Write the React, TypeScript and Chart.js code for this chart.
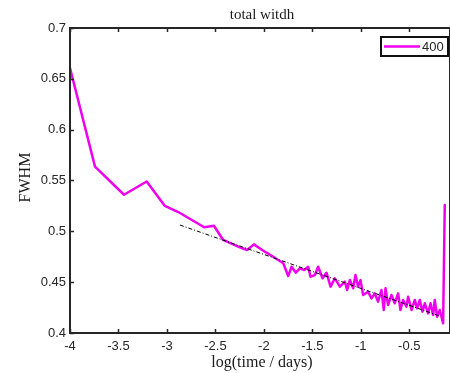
import React, { useEffect, useRef } from "react";
import { Chart, registerables } from "chart.js";
Chart.register(...registerables);

const logTime = [
  -4, -3.742, -3.443, -3.209, -3.021, -2.883, -2.615, -2.515, -2.42, -2.247,
  -2.172, -2.103, -1.99, -1.904, -1.8, -1.749, -1.714, -1.67, -1.629, -1.584,
  -1.543, -1.519, -1.474, -1.44, -1.395, -1.354, -1.312, -1.268, -1.216, -1.165,
  -1.141, -1.113, -1.079, -1.055, -1.028, -1.003, -0.976, -0.925, -0.89, -0.856,
  -0.822, -0.787, -0.763, -0.745, -0.719, -0.684, -0.65, -0.615, -0.591, -0.564,
  -0.529, -0.512, -0.477, -0.443, -0.419, -0.392, -0.364, -0.34, -0.306, -0.281,
  -0.254, -0.237, -0.213, -0.186, -0.168, -0.151, -0.134,
];
const fwhm = [
  0.6607, 0.5637, 0.536, 0.549, 0.525, 0.519, 0.504, 0.5055, 0.4915, 0.4843,
  0.4816, 0.4872, 0.48, 0.475, 0.4686, 0.456, 0.4652, 0.4593, 0.4636, 0.462,
  0.4652, 0.4554, 0.457, 0.4652, 0.4538, 0.4593, 0.4456, 0.4538, 0.4456, 0.4505,
  0.4423, 0.4521, 0.444, 0.457, 0.4456, 0.452, 0.4374, 0.4406, 0.434, 0.439,
  0.4308, 0.4423, 0.4226, 0.444, 0.4275, 0.4374, 0.4292, 0.439, 0.4226, 0.4325,
  0.4259, 0.4357, 0.4226, 0.4325, 0.4243, 0.4325, 0.421, 0.4292, 0.4193, 0.4292,
  0.4177, 0.4325, 0.416, 0.4226, 0.416, 0.4095, 0.526,
];
const fitX = [-2.866, -0.186];
const fitY = [0.5062, 0.4167];
const xTicks = [-4, -3.5, -3, -2.5, -2, -1.5, -1, -0.5];
const yTicks = [0.4, 0.45, 0.5, 0.55, 0.6, 0.65, 0.7];
const seriesLabel = "400";
const titleText = "total witdh";
const xLabel = "log(time / days)";
const yLabel = "FWHM";

const MAGENTA = "#ee00ee";
const AXIS = "#262626";
const SANS = "'Liberation Sans', Arial, sans-serif";
const SERIF = "'Liberation Serif', 'Times New Roman', serif";

const decorPlugin = {
  id: "decor",
  afterDraw(chart: any) {
    const { ctx, chartArea: a, scales } = chart;
    const xs = scales.x;
    const ys = scales.y;
    ctx.save();
    // axes box
    ctx.strokeStyle = AXIS;
    ctx.lineWidth = 2;
    ctx.strokeRect(a.left, a.top, a.right - a.left, a.bottom - a.top);
    // inward ticks
    ctx.lineWidth = 1.5;
    ctx.beginPath();
    xTicks.forEach((v) => {
      const px = Math.round(xs.getPixelForValue(v)) + 0.5;
      ctx.moveTo(px, a.bottom);
      ctx.lineTo(px, a.bottom - 4);
      ctx.moveTo(px, a.top);
      ctx.lineTo(px, a.top + 4);
    });
    yTicks.forEach((v) => {
      const py = Math.round(ys.getPixelForValue(v)) + 0.5;
      ctx.moveTo(a.left, py);
      ctx.lineTo(a.left + 4, py);
    });
    ctx.stroke();
    // title
    const cx = (a.left + a.right) / 2 + 2;
    ctx.fillStyle = "#1a1a1a";
    ctx.font = `15px ${SERIF}`;
    ctx.textAlign = "center";
    ctx.textBaseline = "middle";
    ctx.fillText(titleText, cx, 15);
    // x label
    ctx.font = `16px ${SERIF}`;
    ctx.fillText(xLabel, cx, 363);
    // y label
    ctx.save();
    ctx.translate(26, (a.top + a.bottom) / 2 - 3);
    ctx.rotate(-Math.PI / 2);
    ctx.fillText(yLabel, 0, 0);
    ctx.restore();
    // legend
    const lx = 381, ly = 37, lw = 67, lh = 19;
    ctx.fillStyle = "#ffffff";
    ctx.fillRect(lx, ly, lw, lh);
    ctx.strokeStyle = "#111";
    ctx.lineWidth = 2;
    ctx.strokeRect(lx, ly, lw, lh);
    ctx.strokeStyle = MAGENTA;
    ctx.lineWidth = 2.5;
    ctx.beginPath();
    ctx.moveTo(384, ly + lh / 2);
    ctx.lineTo(420, ly + lh / 2);
    ctx.stroke();
    ctx.fillStyle = AXIS;
    ctx.font = `13px ${SANS}`;
    ctx.textAlign = "left";
    ctx.fillText(seriesLabel, 422, ly + lh / 2 + 1);
    ctx.restore();
  },
};

export default function App() {
  const ref = useRef<HTMLCanvasElement>(null);
  useEffect(() => {
    if (!ref.current) return;
    const chart = new Chart(ref.current, {
      type: "scatter",
      data: {
        datasets: [
          {
            label: seriesLabel,
            data: logTime.map((x, i) => ({ x, y: fwhm[i] })),
            showLine: true,
            borderColor: MAGENTA,
            backgroundColor: MAGENTA,
            borderWidth: 2.5,
            borderJoinStyle: "round",
            borderCapStyle: "round",
            pointRadius: 0,
            tension: 0,
            order: 2,
          },
          {
            label: "fit",
            data: fitX.map((x, i) => ({ x, y: fitY[i] })),
            showLine: true,
            borderColor: "#000000",
            borderWidth: 1,
            borderDash: [4, 2, 1, 2],
            pointRadius: 0,
            order: 1,
          },
        ],
      },
      options: {
        responsive: false,
        animation: false,
        layout: { padding: { top: 28, left: 0, right: 0, bottom: 0 } },
        plugins: {
          legend: { display: false },
          title: { display: false },
          tooltip: { enabled: false },
        },
        scales: {
          x: {
            type: "linear",
            min: -4,
            max: -0.08,
            grid: { display: false, drawTicks: false },
            border: { display: false },
            afterBuildTicks: (s: any) => {
              s.ticks = xTicks.map((v) => ({ value: v }));
            },
            afterFit: (s: any) => {
              s.height = 40;
            },
            ticks: {
              padding: 6,
              color: AXIS,
              font: { family: SANS, size: 13 },
              callback: (v: any) => String(v),
              maxRotation: 0,
            },
          },
          y: {
            type: "linear",
            min: 0.4,
            max: 0.7,
            grid: { display: false, drawTicks: false },
            border: { display: false },
            afterBuildTicks: (s: any) => {
              s.ticks = yTicks.map((v) => ({ value: v }));
            },
            afterFit: (s: any) => {
              s.width = 70;
            },
            ticks: {
              padding: 4,
              color: AXIS,
              font: { family: SANS, size: 13 },
              callback: (v: any) => String(v),
            },
          },
        },
      },
      plugins: [decorPlugin],
    });
    return () => chart.destroy();
  }, []);
  return (
    <div style={{ position: "fixed", left: 0, top: 0, width: 450, height: 373, background: "#fff" }}>
      <canvas ref={ref} width={450} height={373} />
    </div>
  );
}
